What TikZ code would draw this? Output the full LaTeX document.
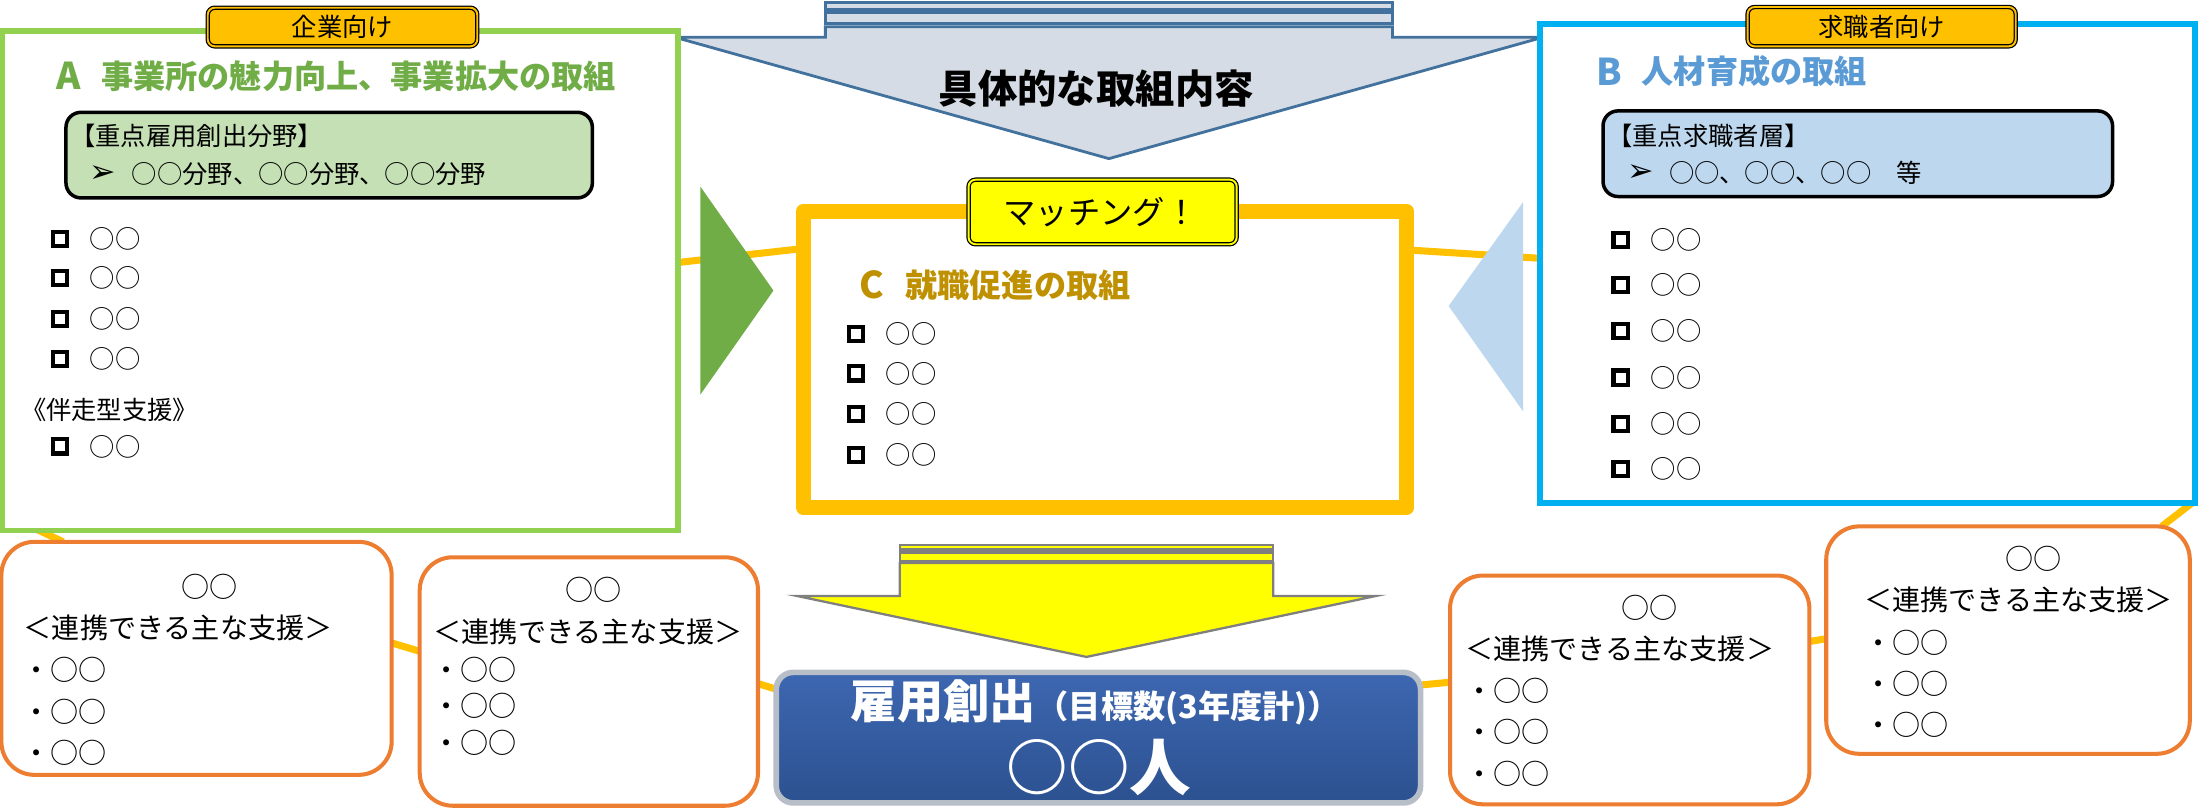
\documentclass[tikz,border=0pt]{standalone}
\usepackage{fontspec}
\setmainfont{Noto Sans CJK JP}
\newfontfamily\dvfont{DejaVu Sans}
\usetikzlibrary{fit,calc}
\definecolor{grnline}{HTML}{92D050}
\definecolor{grntext}{HTML}{70AD47}
\definecolor{bluline}{HTML}{00B0F0}
\definecolor{blutext}{HTML}{5B9BD5}
\definecolor{gold}{HTML}{FFC000}
\definecolor{goldtext}{HTML}{BF9000}
\definecolor{keygrn}{HTML}{C5E0B4}
\definecolor{keyblu}{HTML}{BDD7EE}
\definecolor{arrfill}{HTML}{D6DCE5}
\definecolor{arrline}{HTML}{41719C}
\definecolor{orng}{HTML}{ED7D31}
\definecolor{yel}{HTML}{FFFF00}
\definecolor{grayline}{HTML}{7F7F7F}
\definecolor{ktop}{HTML}{3D67B1}
\definecolor{kbot}{HTML}{2C5190}
\definecolor{khalo}{HTML}{B8BEC8}
\pgfdeclarelayer{bg}
\pgfsetlayers{bg,main}
\tikzset{
  every node/.style={inner sep=0pt, outer sep=0pt},
  boxA/.style={draw=grnline, line width=1.6pt, fill=white},
  boxB/.style={draw=bluline, line width=1.7pt, fill=white},
  boxC/.style={draw=gold, line width=4.4pt, line join=round, fill=white},
  tagbox/.style={draw=black, line width=0.35pt, double=#1, double distance=0.55pt, fill=#1, rounded corners=0.07cm},
  tagtext/.style={font=\fontsize{#1}{#1}\selectfont},
  keybox/.style={draw=black, line width=1pt, rounded corners=0.15cm, fill=#1},
  ttl/.style={font=\fontsize{9.16pt}{9.16pt}\selectfont\bfseries, text=#1, anchor=west},
  bigletter/.style={font=\fontsize{10.5pt}{10.5pt}\selectfont\bfseries, text=#1},
  item/.style={font=\fontsize{7.2pt}{7.2pt}\selectfont, anchor=west},
  arrowmark/.style={font=\dvfont\fontsize{9pt}{9pt}\selectfont},
  chk/.style={draw, line width=1.2pt, minimum size=0.1404cm},
  supbox/.style={draw=orng, line width=1.15pt, rounded corners=0.33cm, fill=white},
  sup/.style={font=\fontsize{8pt}{8pt}\selectfont, anchor=west},
  suphead/.style={font=\fontsize{8pt}{8pt}\selectfont},
  conn/.style={draw=gold, line width=2pt},
  arrowtop/.style={fill=arrfill, draw=arrline, line width=0.8pt, line join=miter},
  arrowyel/.style={fill=yel, draw=grayline, line width=0.65pt, line join=miter},
  ktext/.style={font=\fontsize{#1}{#1}\selectfont\bfseries, text=white},
}
\begin{document}
\begin{tikzpicture}[x=0.014037cm, y=-0.014037cm]
\useasboundingbox (0,0) rectangle (1568,578);

% ---- top arrow ----
\path[arrowtop] (588,19) -- (588,26.6) -- (481,26.6) -- (790,113) -- (1099,26.6) -- (992,26.6) -- (992,19) -- cycle;
\path[arrowtop] (588,9) rectangle (992,17);
\path[arrowtop] (588,2) rectangle (992,6.6);
\node[font=\fontsize{11.2pt}{11.2pt}\selectfont\bfseries] (topttl) at (781,63) {具体的な取組内容};

% ---- main boxes ----
\node[boxA, fit={(1.5,22) (483,378)}] (A) {};
\node[boxB, fit={(1097,17) (1564,358)}] (B) {};
\node[boxC, fit={(572.5,150.5) (1002,361.5)}] (C) {};

% ---- support boxes ----
\node[supbox, fit={(1,386) (279,552)}] (b1) {};
\node[supbox, fit={(299,397) (540,574)}] (b2) {};
\node[supbox, fit={(1033,410) (1289,573)}] (b3) {};
\node[supbox, fit={(1301,375) (1560,537)}] (b4) {};

% ---- result box ----
\node[fit={(553,479) (1012,572)}, rounded corners=0.17cm, draw=khalo, line width=1.6pt, top color=ktop, bottom color=kbot] (K) {};

% ---- connectors (behind) ----
\begin{pgfonlayer}{bg}
\draw[conn] ([shift={(0,-13)}]A.east) -- ([shift={(0,-79)}]C.west);
\draw[conn] ([shift={(0,-78)}]C.east) -- ([shift={(0,-3.5)}]B.west);
\draw[conn] ([shift={(18,-4)}]A.south west) -- ([shift={(44,0)}]b1.north west);
\draw[conn] ([shift={(0,-11)}]b1.east) -- ([shift={(0,-21.5)}]b2.west);
\draw[conn] ([shift={(0,1.5)}]b2.east) -- ([shift={(0,-34.5)}]K.west);
\draw[conn] ([shift={(0,-37.5)}]K.east) -- ([shift={(0,-5.5)}]b3.west);
\draw[conn] ([shift={(0,-34.5)}]b3.east) -- ([shift={(0,-1)}]b4.west);
\draw[conn] ([shift={(-20,0)}]b4.north east) -- ([shift={(-2,0)}]B.south east);
\end{pgfonlayer}

% ---- side triangles ----
\fill[grntext] (499,133) -- (551,207) -- (499,281) -- cycle;
\fill[keyblu] (1085,144) -- (1032,218) -- (1085,293) -- cycle;

% ---- tags ----
\node[tagbox=gold, fit={(148,5.5) (340,33)}] (tA) {};
\node[tagtext=7.2pt] (tAt) at (244,19) {企業向け};
\node[tagbox=gold, fit={(1245,5) (1436,33)}] (tB) {};
\node[tagtext=7.2pt] (tBt) at (1340.5,19) {求職者向け};
\node[tagbox=yel, fit={(690,128) (881,174)}] (tC) {};
\node[tagtext=9.2pt] (tCt) at (784,151) {マッチング！};

% ---- box A contents ----
\node[bigletter=grntext] (Al) at (49,54) {A};
\node[ttl=grntext] (At) at (72,54) {事業所の魅力向上、事業拡大の取組};
\node[keybox=keygrn, fit={(47,80) (422,141)}] (Ak) {};
\node[item] (Ak1) at (50,97) {【重点雇用創出分野】};
\node[arrowmark] (Aar) at (73,124) {➢};
\node[item] (Ak2) at (94,124) {○○分野、○○分野、○○分野};
\node[chk] (Ac1) at (42.6,170) {};
\node[item] (Ai1) at (64,170) {○○};
\node[chk] (Ac2) at (42.6,198) {};
\node[item] (Ai2) at (64,198) {○○};
\node[chk] (Ac3) at (42.6,227.5) {};
\node[item] (Ai3) at (64,227.5) {○○};
\node[chk] (Ac4) at (42.6,256) {};
\node[item] (Ai4) at (64,256) {○○};
\node[item] (Aban) at (15,292) {《伴走型支援》};
\node[chk] (Ac5) at (42.6,318) {};
\node[item] (Ai5) at (64,318) {○○};

% ---- box B contents ----
\node[bigletter=blutext] (Bl) at (1146.5,51) {B};
\node[ttl=blutext] (Bt) at (1169.5,51) {人材育成の取組};
\node[keybox=keyblu, fit={(1142,79) (1505,140)}] (Bk) {};
\node[item] (Bk1) at (1145,97) {【重点求職者層】};
\node[arrowmark] (Bar) at (1169,123) {➢};
\node[item] (Bk2) at (1189,123) {○○、○○、○○　等};
\node[chk] (Bc1) at (1154.5,171) {};
\node[item] (Bi1) at (1176,171) {○○};
\node[chk] (Bc2) at (1154.5,203) {};
\node[item] (Bi2) at (1176,203) {○○};
\node[chk] (Bc3) at (1154.5,236) {};
\node[item] (Bi3) at (1176,236) {○○};
\node[chk] (Bc4) at (1154.5,269) {};
\node[item] (Bi4) at (1176,269) {○○};
\node[chk] (Bc5) at (1154.5,302) {};
\node[item] (Bi5) at (1176,302) {○○};
\node[chk] (Bc6) at (1154.5,334) {};
\node[item] (Bi6) at (1176,334) {○○};

% ---- box C contents ----
\node[bigletter=goldtext] (Cl) at (621,203) {C};
\node[ttl=goldtext] (Ct) at (645,203) {就職促進の取組};
\node[chk] (Cc1) at (610,238) {};
\node[item] (Ci1) at (631,238) {○○};
\node[chk] (Cc2) at (610,266) {};
\node[item] (Ci2) at (631,266) {○○};
\node[chk] (Cc3) at (610,295) {};
\node[item] (Ci3) at (631,295) {○○};
\node[chk] (Cc4) at (610,324) {};
\node[item] (Ci4) at (631,324) {○○};

% ---- bottom arrow ----
\path[arrowyel] (641,401) -- (641,424.6) -- (568,424.6) -- (774,468) -- (980,424.6) -- (907,424.6) -- (907,401) -- cycle;
\path[arrowyel] (641,393.5) rectangle (907,399.5);
\path[arrowyel] (641,388) rectangle (907,391.5);

% ---- support box texts ----
\node[suphead] (b1h) at (149,418) {○○};
\node[sup] (b1s) at (17,447) {＜連携できる主な支援＞};
\node[sup] (b1a) at (16,477) {・○○};
\node[sup] (b1b) at (16,507) {・○○};
\node[sup] (b1c) at (16,536) {・○○};

\node[suphead] (b2h) at (423,420) {○○};
\node[sup] (b2s) at (309,450) {＜連携できる主な支援＞};
\node[sup] (b2a) at (308,477) {・○○};
\node[sup] (b2b) at (308,503) {・○○};
\node[sup] (b2c) at (308,529) {・○○};

\node[suphead] (b3h) at (1175,433) {○○};
\node[sup] (b3s) at (1044,462) {＜連携できる主な支援＞};
\node[sup] (b3a) at (1044,492) {・○○};
\node[sup] (b3b) at (1044,521) {・○○};
\node[sup] (b3c) at (1044,551) {・○○};

\node[suphead] (b4h) at (1449,398) {○○};
\node[sup] (b4s) at (1328,427) {＜連携できる主な支援＞};
\node[sup] (b4a) at (1328,458) {・○○};
\node[sup] (b4b) at (1328,487) {・○○};
\node[sup] (b4c) at (1328,516) {・○○};

% ---- result texts ----
\node[ktext=13.15pt] (K1) at (672,500) {雇用創出};
\node[ktext=9.16pt] (K2) at (846.5,504) {（目標数(3年度計)）};
\node[ktext=17.5pt] (K3) at (783,547) {○○人};

\end{tikzpicture}
\end{document}
